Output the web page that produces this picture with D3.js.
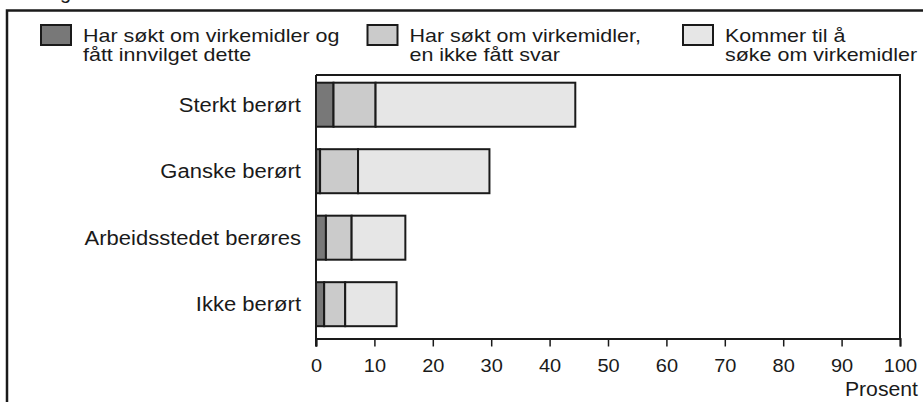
<!DOCTYPE html>
<html>
<head>
<meta charset="utf-8">
<script src="https://cdn.jsdelivr.net/npm/d3@7"></script>
<style>
  body { margin: 0; background: white; }
</style>
</head>
<body>
<div id="chart"></div>
<script>
var categories = ["Sterkt berørt", "Ganske berørt", "Arbeidsstedet berøres", "Ikke berørt"];
var seriesNames = [
  ["Har søkt om virkemidler og", "fått innvilget dette"],
  ["Har søkt om virkemidler,", "en ikke fått svar"],
  ["Kommer til å", "søke om virkemidler"]
];
// percent for each series, one value per category
var innvilget = [3.0, 0.7, 1.7, 1.4];
var ikkeSvar = [7.2, 6.5, 4.4, 3.6];
var kommerTil = [34.2, 22.5, 9.2, 8.8];
var xTicks = [0, 10, 20, 30, 40, 50, 60, 70, 80, 90, 100];

var fills = ["#787878", "#cbcbcb", "#e6e6e6"];
var ink = "#1a1a1a";
var font = "Liberation Sans";

var width = 923, height = 402;
var plotLeft = 316, plotRight = 900, plotTop = 75, plotBottom = 338.5;

var svg = d3.select("#chart").append("svg")
  .attr("width", width)
  .attr("height", height);

function textAttr(selection, fill, fontFamily, fontSize) {
  selection
    .attr("fill", fill)
    .attr("font-family", fontFamily)
    .attr("font-size", fontSize);
}

// the original type is a bit wider than Liberation Sans
function widen(selection, k) {
  selection.each(function() {
    var w = this.getComputedTextLength();
    d3.select(this)
      .attr("textLength", w * k)
      .attr("lengthAdjust", "spacingAndGlyphs");
  });
}

// cut off title above the frame
svg.append("text")
  .attr("x", 60)
  .attr("y", -1)
  .text("g")
  .call(textAttr, ink, font, "20px");

// outer frame, runs off the right and bottom edge
svg.append("path")
  .attr("d", "M7,402 V10.5 H930")
  .attr("fill", "none")
  .attr("stroke", ink)
  .attr("stroke-width", 2.5);

var x = d3.scaleLinear().domain([0, 100]).range([plotLeft, plotRight]);
var y = d3.scaleBand().domain(categories).range([71.4, 337.5])
  .paddingInner(0.338).paddingOuter(0.17);

var stack = d3.stack().keys([0, 1, 2])
  .value((d, k) => d[k]);
var rows = categories.map((c, i) => {
  var r = [innvilget[i], ikkeSvar[i], kommerTil[i]];
  r.cat = c;
  return r;
});
var layers = stack(rows);

svg.selectAll("g.layer")
  .data(layers)
  .enter()
  .append("g")
  .attr("class", "layer")
  .attr("fill", (d, i) => fills[i])
  .selectAll("rect")
  .data(d => d)
  .enter()
  .append("rect")
  .attr("x", d => x(d[0]))
  .attr("y", d => y(d.data.cat))
  .attr("width", d => x(d[1]) - x(d[0]))
  .attr("height", y.bandwidth())
  .attr("stroke", ink)
  .attr("stroke-width", 2);

// plot frame: top and right lines
svg.append("path")
  .attr("d", `M${plotLeft},${plotTop} H${plotRight} V${plotBottom}`)
  .attr("fill", "none")
  .attr("stroke", ink)
  .attr("stroke-width", 2);

var xAxis = svg.append("g")
  .attr("transform", `translate(0,${plotBottom})`)
  .call(d3.axisBottom(x).tickValues(xTicks).tickSize(8).tickPadding(12));
xAxis.select(".domain").attr("stroke", ink).attr("stroke-width", 2);
xAxis.selectAll(".tick line").attr("stroke", ink).attr("stroke-width", 1.5);
xAxis.selectAll(".tick text")
  .call(textAttr, ink, font, "18.5px")
  .call(widen, 1.08);

svg.append("line")
  .attr("x1", plotLeft).attr("x2", plotLeft)
  .attr("y1", plotTop).attr("y2", plotBottom + 8)
  .attr("stroke", ink)
  .attr("stroke-width", 2);

svg.selectAll("text.cat")
  .data(categories)
  .enter()
  .append("text")
  .attr("class", "cat")
  .attr("x", 301)
  .attr("y", d => y(d) + y.bandwidth() / 2)
  .attr("dy", "0.35em")
  .attr("text-anchor", "end")
  .text(d => d)
  .call(textAttr, ink, font, "20px")
  .call(widen, 1.1);

svg.append("text")
  .attr("x", 918)
  .attr("y", 396)
  .attr("text-anchor", "end")
  .text("Prosent")
  .call(textAttr, ink, font, "20px")
  .call(widen, 1.06);

// legend
var legendX = [41, 367.5, 683];
var legend = svg.selectAll("g.legend")
  .data(seriesNames)
  .enter()
  .append("g")
  .attr("class", "legend")
  .attr("transform", (d, i) => `translate(${legendX[i]},0)`);

legend.append("rect")
  .attr("x", 0).attr("y", 25)
  .attr("width", 30).attr("height", 20)
  .attr("fill", (d, i) => fills[i])
  .attr("stroke", ink)
  .attr("stroke-width", 2);

legend.selectAll("text")
  .data(d => d)
  .enter()
  .append("text")
  .attr("x", 42)
  .attr("y", (d, i) => 42 + i * 18.5)
  .text(d => d)
  .call(textAttr, ink, font, "19px")
  .call(widen, 1.13);
</script>
</body>
</html>
